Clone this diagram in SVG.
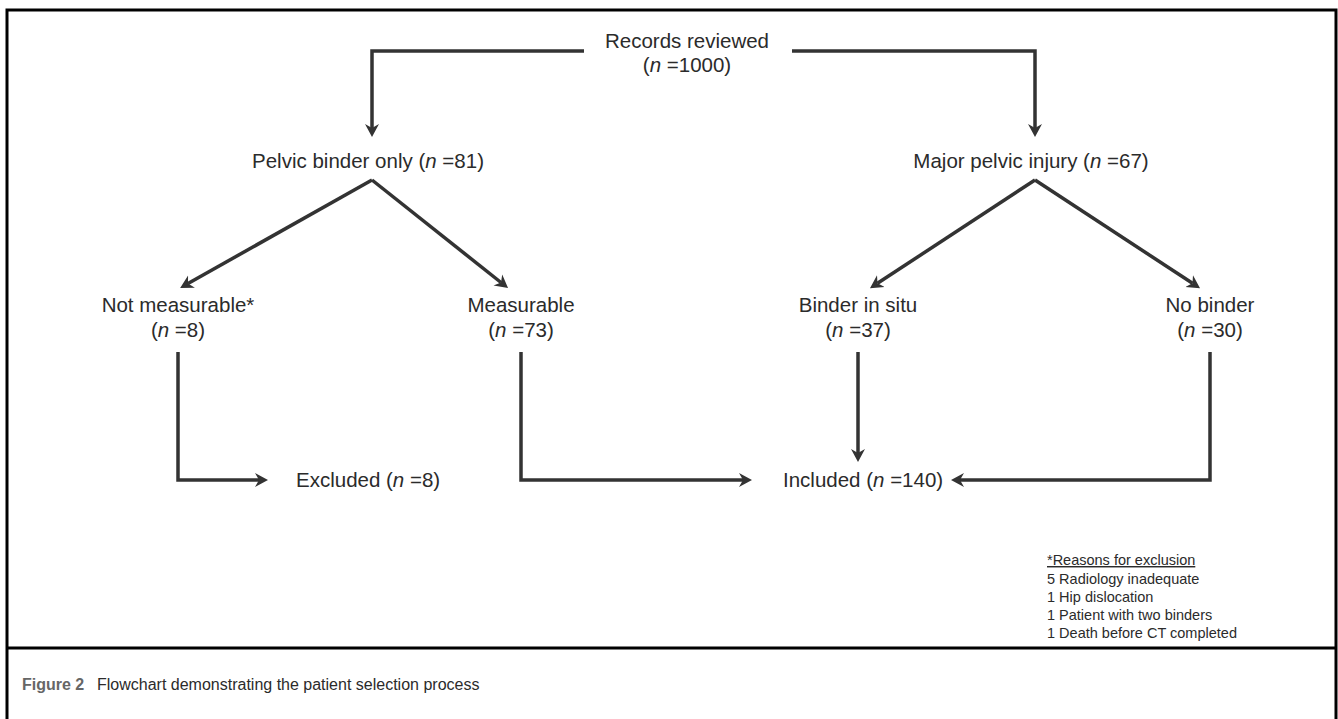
<svg xmlns="http://www.w3.org/2000/svg" width="1338" height="719" viewBox="0 0 1338 719">
<style>
.t{font-family:"Liberation Sans",Arial,sans-serif;font-size:20.5px;fill:#2b2b2b;text-anchor:middle}
.ts{font-family:"Liberation Sans",Arial,sans-serif;font-size:20.5px;fill:#2b2b2b;text-anchor:start}
.s{font-family:"Liberation Sans",Arial,sans-serif;font-size:14.5px;fill:#2b2b2b}
.c{font-family:"Liberation Sans",Arial,sans-serif;font-size:16px;fill:#2b2b2b}
.ln{fill:none;stroke:#333;stroke-width:3.5;stroke-linejoin:miter}
.fr{fill:none;stroke:#000;stroke-width:3}
</style>
<defs>
<marker id="ah" viewBox="0 -8 14 16" refX="4" refY="0" markerWidth="14" markerHeight="16" markerUnits="userSpaceOnUse" orient="auto">
<path d="M0,-7 L13,0 L0,7 L4,0 Z" fill="#333"/>
</marker>
</defs>
<rect width="1338" height="719" fill="#fff"/>
<g id="frame">
<path class="fr" d="M7,725 V10 H1336 V725"/>
<line class="fr" x1="7" y1="648" x2="1336" y2="648"/>
</g>
<g id="connectors">
<path class="ln" d="M584,51 H372 V128" marker-end="url(#ah)"/>
<path class="ln" d="M792,51 H1035 V128" marker-end="url(#ah)"/>
<path class="ln" d="M372,180 L188,283.5" marker-end="url(#ah)"/>
<path class="ln" d="M372,180 L501,282.5" marker-end="url(#ah)"/>
<path class="ln" d="M1035,180 L877.5,283.3" marker-end="url(#ah)"/>
<path class="ln" d="M1035,180 L1192.5,283.3" marker-end="url(#ah)"/>
<path class="ln" d="M178,352 V480 H259" marker-end="url(#ah)"/>
<path class="ln" d="M521,352 V480 H743" marker-end="url(#ah)"/>
<path class="ln" d="M858,352 V453" marker-end="url(#ah)"/>
<path class="ln" d="M1210,352 V480 H960" marker-end="url(#ah)"/>
</g>
<g id="records">
<text class="t" x="687" y="48">Records reviewed</text>
<text class="t" x="687" y="72">(<tspan font-style="italic">n</tspan> =1000)</text>
</g>
<g id="pelvic-binder">
<text class="t" x="368" y="168">Pelvic binder only (<tspan font-style="italic">n</tspan> =81)</text>
</g>
<g id="major-pelvic">
<text class="t" x="1031" y="168">Major pelvic injury (<tspan font-style="italic">n</tspan> =67)</text>
</g>
<g id="not-measurable">
<text class="t" x="178" y="312">Not measurable*</text>
<text class="t" x="178" y="337">(<tspan font-style="italic">n</tspan> =8)</text>
</g>
<g id="measurable">
<text class="t" x="521" y="312">Measurable</text>
<text class="t" x="521" y="337">(<tspan font-style="italic">n</tspan> =73)</text>
</g>
<g id="binder-in-situ">
<text class="t" x="858" y="312">Binder in situ</text>
<text class="t" x="858" y="337">(<tspan font-style="italic">n</tspan> =37)</text>
</g>
<g id="no-binder">
<text class="t" x="1210" y="312">No binder</text>
<text class="t" x="1210" y="337">(<tspan font-style="italic">n</tspan> =30)</text>
</g>
<g id="excluded">
<text class="ts" x="296" y="487">Excluded (<tspan font-style="italic">n</tspan> =8)</text>
</g>
<g id="included">
<text class="ts" x="783" y="487">Included (<tspan font-style="italic">n</tspan> =140)</text>
</g>
<g id="reasons">
<text class="s" x="1047" y="565" text-decoration="underline">*Reasons for exclusion</text>
<text class="s" x="1047" y="584">5 Radiology inadequate</text>
<text class="s" x="1047" y="602">1 Hip dislocation</text>
<text class="s" x="1047" y="620">1 Patient with two binders</text>
<text class="s" x="1047" y="638">1 Death before CT completed</text>
</g>
<g id="caption">
<text class="c" x="22" y="690"><tspan font-weight="bold" fill="#666">Figure 2</tspan><tspan x="97">Flowchart demonstrating the patient selection process</tspan></text>
</g>
</svg>
